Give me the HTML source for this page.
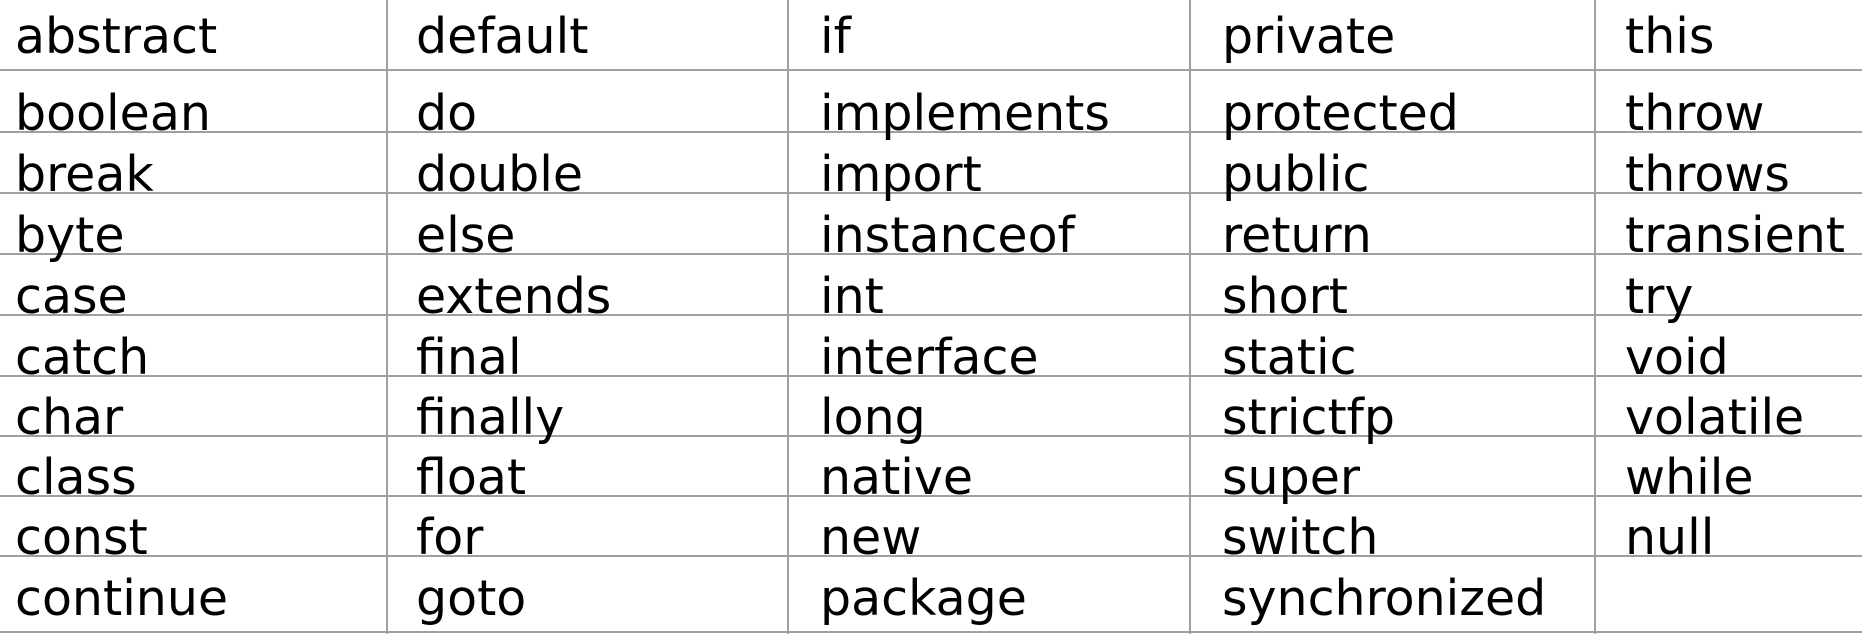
<!DOCTYPE html>
<html><head><meta charset="utf-8"><style>
html,body{margin:0;padding:0;background:#fff;}
svg{display:block;}
text{font-family:"DejaVu Sans","Liberation Sans",sans-serif;font-size:49px;fill:#000;}
</style></head><body>
<svg width="1862" height="634" xmlns="http://www.w3.org/2000/svg">
<g stroke="#a0a0a0" stroke-width="2">
<line x1="0" y1="70" x2="1862" y2="70"/>
<line x1="0" y1="132" x2="1862" y2="132"/>
<line x1="0" y1="193" x2="1862" y2="193"/>
<line x1="0" y1="254" x2="1862" y2="254"/>
<line x1="0" y1="315" x2="1862" y2="315"/>
<line x1="0" y1="376" x2="1862" y2="376"/>
<line x1="0" y1="436" x2="1862" y2="436"/>
<line x1="0" y1="496" x2="1862" y2="496"/>
<line x1="0" y1="556" x2="1862" y2="556"/>
<line x1="0" y1="632" x2="1862" y2="632"/>
<line x1="387" y1="0" x2="387" y2="634"/>
<line x1="788" y1="0" x2="788" y2="634"/>
<line x1="1190" y1="0" x2="1190" y2="634"/>
<line x1="1595" y1="0" x2="1595" y2="634"/>
</g>
<g>
<text x="15" y="53">abstract</text><text x="416" y="53">default</text><text x="820" y="53">if</text><text x="1222" y="53">private</text><text x="1625" y="53">this</text>
<text x="15" y="130">boolean</text><text x="416" y="130">do</text><text x="820" y="130">implements</text><text x="1222" y="130">protected</text><text x="1625" y="130">throw</text>
<text x="15" y="191">break</text><text x="416" y="191">double</text><text x="820" y="191">import</text><text x="1222" y="191">public</text><text x="1625" y="191">throws</text>
<text x="15" y="252">byte</text><text x="416" y="252">else</text><text x="820" y="252">instanceof</text><text x="1222" y="252">return</text><text x="1625" y="252">transient</text>
<text x="15" y="313">case</text><text x="416" y="313">extends</text><text x="820" y="313">int</text><text x="1222" y="313">short</text><text x="1625" y="313">try</text>
<text x="15" y="374">catch</text><text x="416" y="374">final</text><text x="820" y="374">interface</text><text x="1222" y="374">static</text><text x="1625" y="374">void</text>
<text x="15" y="434">char</text><text x="416" y="434">finally</text><text x="820" y="434">long</text><text x="1222" y="434">strictfp</text><text x="1625" y="434">volatile</text>
<text x="15" y="494">class</text><text x="416" y="494">float</text><text x="820" y="494">native</text><text x="1222" y="494">super</text><text x="1625" y="494">while</text>
<text x="15" y="554">const</text><text x="416" y="554">for</text><text x="820" y="554">new</text><text x="1222" y="554">switch</text><text x="1625" y="554">null</text>
<text x="15" y="615">continue</text><text x="416" y="615">goto</text><text x="820" y="615">package</text><text x="1222" y="615">synchronized</text>
</g>
</svg>
</body></html>
